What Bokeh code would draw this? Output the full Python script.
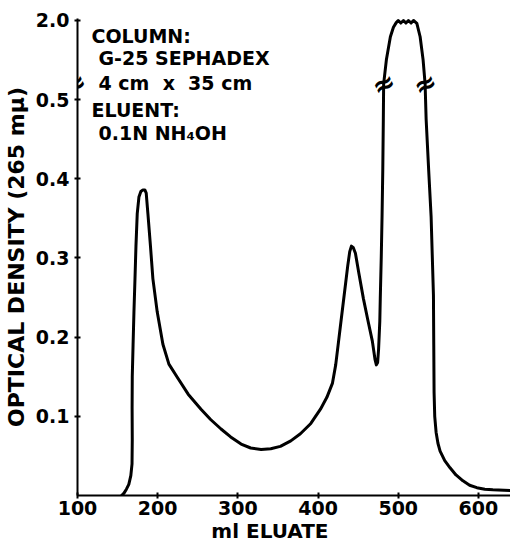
import numpy as np
from bokeh.plotting import figure
from bokeh.models import Label, FixedTicker, Range1d, LinearAxis
from bokeh.embed import file_html
from bokeh.resources import INLINE

# ---- data (ml eluate, optical density at 265 mu) ----
ml_eluate = [
    155, 158, 161, 164, 166.5, 168, 168.3, 168.1, 168.3, 169.3, 170.4, 171.7, 172.9,
    174.5, 176.6, 179, 181.6, 184, 185.7, 187.8, 191, 194, 199.4, 206.5, 214, 224,
    238, 254, 266, 279, 291, 304, 316, 329, 341, 353, 366, 378, 391, 403, 411, 418,
    422, 425, 428, 431, 434, 437, 439.5, 441.6, 444, 446.6, 451, 456.5, 462, 467.7,
    471, 472.7, 474.3, 475.5, 477, 477.6, 478.8, 479.8, 480.7, 481.4, 481.8,
    485.2, 490.2, 494, 497.5, 500, 503.2, 506.5, 509.6, 512.7, 516, 519, 523.2,
    527.3, 531, 533.5, 534.8, 538, 541, 543.9, 544.3, 544.7, 545.5, 547.2, 549.5,
    552.2, 558, 564.6, 572, 580.7, 589, 598, 608, 618, 632, 650,
]
optical_density = [
    0.0, 0.003, 0.008, 0.014, 0.025, 0.04, 0.07, 0.11, 0.15, 0.19, 0.232, 0.274, 0.315,
    0.356, 0.377, 0.384, 0.386, 0.386, 0.382, 0.356, 0.315, 0.274, 0.232, 0.191, 0.166, 0.150,
    0.128, 0.109, 0.096, 0.084, 0.074, 0.065, 0.060, 0.058, 0.059, 0.062, 0.069, 0.078, 0.091, 0.109, 0.124, 0.142,
    0.165, 0.19, 0.215, 0.24, 0.265, 0.29, 0.308, 0.315, 0.313, 0.306, 0.28, 0.249, 0.222, 0.195,
    0.172, 0.165, 0.168, 0.185, 0.22, 0.249, 0.30, 0.352, 0.41, 0.475, 0.52,
    1.08, 1.62, 1.84, 1.95, 2.0, 1.94, 2.0, 1.94, 2.0, 1.94, 2.0, 1.93,
    1.62, 1.08, 0.52, 0.475, 0.41, 0.352, 0.253, 0.19, 0.130, 0.10, 0.080, 0.066,
    0.056, 0.044, 0.035, 0.026, 0.0185, 0.013, 0.0099, 0.008, 0.0072, 0.0065, 0.006,
]
x_ticks = [100, 200, 300, 400, 500, 600]
y_tick_values = [0.1, 0.2, 0.3, 0.4, 0.5, 2.0]
y_tick_labels = ["0.1", "0.2", "0.3", "0.4", "0.5", "2.0"]
note_lines = ["COLUMN:", "G-25 SEPHADEX", "4 cm \u00a0x\u00a0 35 cm", "ELUENT:", "0.1N NH\u2084OH"]
x_title = "ml ELUATE"
y_title = "OPTICAL DENSITY (265 m\u03bc)"

# ---- broken y scale: linear up to BREAK, compressed above ----
BREAK = 0.52
TOP_OD = 2.0
TOP_AXIS = 0.6


def to_axis(v):
    v = np.asarray(v, dtype=float)
    out = np.where(v <= BREAK, v, BREAK + (v - BREAK) * (TOP_AXIS - BREAK) / (TOP_OD - BREAK))
    return np.round(out, 6)


FONT = "DejaVu Sans"
INK = "black"

p = figure(width=510, height=545,
           x_range=Range1d(100, 640), y_range=Range1d(0, 0.6025),
           output_backend="svg", toolbar_location=None,
           min_border_left=76, min_border_right=0, min_border_top=18, min_border_bottom=10)
p.outline_line_color = None
p.grid.visible = False
p.background_fill_color = "white"
p.border_fill_color = "white"

y_plot = to_axis(optical_density)
p.line(ml_eluate, y_plot, line_color=INK, line_width=3, line_join="round", line_cap="round")

for ax in (p.xaxis, p.yaxis):
    ax.axis_line_color = INK
    ax.axis_line_width = 2
    ax.major_tick_line_color = INK
    ax.major_tick_line_width = 2
    ax.major_tick_in = 3
    ax.major_tick_out = 3
    ax.minor_tick_line_color = None
    ax.major_label_text_font = FONT
    ax.major_label_text_font_style = "bold"
    ax.major_label_text_font_size = "19px"
    ax.major_label_text_color = INK
    ax.axis_label_text_font = FONT
    ax.axis_label_text_font_style = "bold"
    ax.axis_label_text_color = INK

p.xaxis.ticker = FixedTicker(ticks=x_ticks)
p.xaxis.major_label_standoff = 2

# x title drawn as the single label of a bare second axis, centred at 340 ml as in the original
X_TITLE_AT = 340
title_axis = LinearAxis(ticker=FixedTicker(ticks=[X_TITLE_AT]),
                        major_label_overrides={X_TITLE_AT: x_title},
                        axis_line_color=None, major_tick_line_color=None,
                        minor_tick_line_color=None, major_tick_in=0, major_tick_out=0,
                        major_label_standoff=1,
                        major_label_text_font=FONT, major_label_text_font_style="bold",
                        major_label_text_font_size="20px", major_label_text_color=INK)
p.add_layout(title_axis, "below")

y_ticks = [float(t) for t in to_axis(y_tick_values)]
p.yaxis.ticker = FixedTicker(ticks=y_ticks)
p.yaxis.major_label_overrides = {t: lab for t, lab in zip(y_ticks, y_tick_labels)}
p.yaxis.major_label_standoff = 5
p.yaxis.axis_label = y_title
p.yaxis.axis_label_text_font_size = "22px"
p.yaxis.axis_label_standoff = 4

# column / eluent note: x in px from the frame's left edge, baselines on the y scale
note_x = [14, 21, 21, 14, 21]
note_y = [0.581, 0.553, 0.521, 0.4865, 0.4575]
for t, nx, ny in zip(note_lines, note_x, note_y):
    p.add_layout(Label(x=nx, y=ny, x_units="screen", y_units="data", text=t,
                       text_align="left", text_baseline="alphabetic",
                       text_font=FONT, text_font_style="bold", text_font_size="19px",
                       text_color=INK))

# break symbols: on the axis and where the curve crosses the break level
ml_arr = np.asarray(ml_eluate, dtype=float)
idx = np.where(y_plot > BREAK - 1e-9)[0]
left_x = float(ml_arr[idx[0]])
right_x = float(ml_arr[idx[-1]])

break_marks = [(100.0, -3), (left_x, 0), (right_x, 0)]
for bx, off in break_marks:
    p.add_layout(Label(x=bx, y=BREAK, x_units="data", y_units="data", text="\u2248",
                       x_offset=off, angle=0.45, text_align="center", text_baseline="middle",
                       text_font=FONT, text_font_style="bold", text_font_size="27px",
                       text_color=INK))

open("out.html", "w").write(file_html(p, INLINE))
